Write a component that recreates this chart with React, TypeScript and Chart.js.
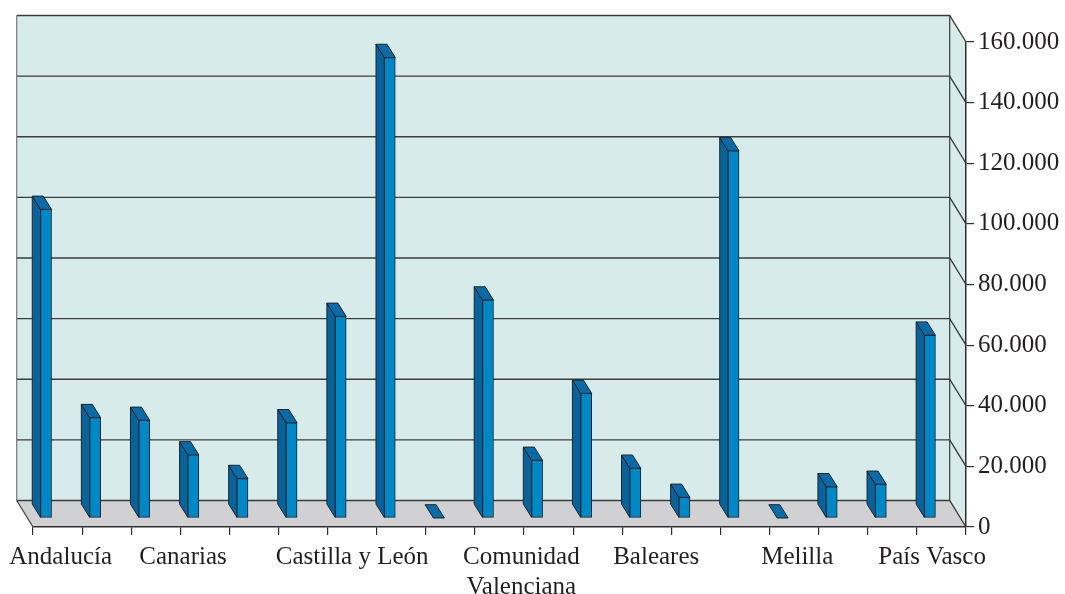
import React, { useEffect, useRef } from 'react';
import { Chart, registerables } from 'chart.js';

Chart.register(...registerables);

// ---- data ----
const categories = [
  'Andalucía', 'Aragón', 'Asturias', 'Canarias', 'Cantabria', 'Castilla-La Mancha',
  'Castilla y León', 'Cataluña', 'Ceuta', 'Comunidad Valenciana', 'Extremadura',
  'Galicia', 'Baleares', 'La Rioja', 'Madrid', 'Melilla', 'Murcia', 'Navarra', 'País Vasco',
];
const values = [
  101800, 33100, 32200, 20800, 13000, 31400,
  66500, 151900, 0, 71900, 19000,
  41100, 16400, 6800, 121100, 0, 10300, 11100, 60300,
];
const yTickValues = [0, 20000, 40000, 60000, 80000, 100000, 120000, 140000, 160000];
const labelEvery = 3;

// ---- style ----
const FONT = "'Liberation Serif', 'Times New Roman', serif";
const TEXT = '#231f20';
const AXIS = '#2e2e2e';
const WALL = '#d7ecea';
const FLOOR = '#d1d1d3';
const GRID = '#3c3c3c';
const FRONT = '#0087c6';
const SIDE = '#08639b';
const TOP = '#0c6ba7';
const OUTLINE = '#1b2530';
const WALL_DX = -16.3;
const WALL_DY = -26.5;
const BAR_SHIFT_X = -11.5;
const BAR_SHIFT_Y = -9;
const DEPTH_DX = -8.3;
const DEPTH_DY = -13.3;
// label nudges (non-breaking spaces: + leading, - trailing)
const LABEL_NUDGE: Record<number, number> = { 0: 1, 3: -7, 9: 7, 12: 3, 15: 1, 18: -3 };

const fmt = (v: number) => String(v).replace(/\B(?=(\d{3})+(?!\d))/g, '.');

function nudge(s: string, n: number) {
  const sp = '\u00a0'.repeat(Math.abs(n));
  return n >= 0 ? sp + s : s + sp;
}

const wallsPlugin = {
  id: 'walls3d',
  beforeDraw(chart: any) {
    const { ctx, chartArea } = chart;
    const { left, right, top, bottom } = chartArea;
    const yScale = chart.scales.y;
    const bl = left + WALL_DX, br = right + WALL_DX;
    const bt = top + WALL_DY, bb = bottom + WALL_DY;
    ctx.save();
    // back wall
    ctx.fillStyle = WALL;
    ctx.fillRect(bl, bt, br - bl, bb - bt);
    // right side wall
    ctx.beginPath();
    ctx.moveTo(br, bt); ctx.lineTo(right, top); ctx.lineTo(right, bottom); ctx.lineTo(br, bb);
    ctx.closePath();
    ctx.fill();
    // floor
    ctx.fillStyle = FLOOR;
    ctx.beginPath();
    ctx.moveTo(bl, bb); ctx.lineTo(br, bb); ctx.lineTo(right, bottom); ctx.lineTo(left, bottom);
    ctx.closePath();
    ctx.fill();
    // gridlines and side diagonals
    ctx.strokeStyle = GRID;
    ctx.lineWidth = 1.4;
    yScale.ticks.forEach((t: any) => {
      const yf = yScale.getPixelForValue(t.value);
      const yb = yf + WALL_DY;
      ctx.beginPath();
      ctx.moveTo(bl, yb); ctx.lineTo(br, yb); ctx.lineTo(right, yf);
      ctx.stroke();
    });
    // wall edges
    ctx.lineWidth = 1.2;
    ctx.beginPath();
    ctx.moveTo(br, bt); ctx.lineTo(br, bb);
    ctx.moveTo(bl, bb); ctx.lineTo(left, bottom);
    ctx.stroke();
    ctx.strokeStyle = '#777';
    ctx.beginPath();
    ctx.moveTo(bl, bt); ctx.lineTo(bl, bb);
    ctx.stroke();
    ctx.restore();
  },
};

const bars3dPlugin = {
  id: 'bars3d',
  beforeDatasetsDraw(chart: any) {
    const { ctx } = chart;
    ctx.save();
    ctx.translate(BAR_SHIFT_X, BAR_SHIFT_Y);
    const meta = chart.getDatasetMeta(0);
    ctx.lineWidth = 1;
    ctx.strokeStyle = OUTLINE;
    ctx.lineJoin = 'miter';
    meta.data.forEach((el: any) => {
      const { x, y, base, width } = el.getProps(['x', 'y', 'base', 'width'], true);
      const L = x - width / 2, R = x + width / 2, T = Math.min(y, base), B = Math.max(y, base);
      // side face
      if (B - T > 0.5) {
        ctx.fillStyle = SIDE;
        ctx.beginPath();
        ctx.moveTo(L, B); ctx.lineTo(L, T); ctx.lineTo(L + DEPTH_DX, T + DEPTH_DY); ctx.lineTo(L + DEPTH_DX, B + DEPTH_DY);
        ctx.closePath();
        ctx.fill(); ctx.stroke();
      }
      // top face
      ctx.fillStyle = TOP;
      ctx.beginPath();
      ctx.moveTo(L, T); ctx.lineTo(R, T); ctx.lineTo(R + DEPTH_DX, T + DEPTH_DY); ctx.lineTo(L + DEPTH_DX, T + DEPTH_DY);
      ctx.closePath();
      ctx.fill(); ctx.stroke();
    });
  },
  afterDatasetsDraw(chart: any) {
    chart.ctx.restore();
  },
};

export default function App() {
  const ref = useRef<HTMLCanvasElement>(null);
  useEffect(() => {
    const chart = new Chart(ref.current as HTMLCanvasElement, {
      type: 'bar',
      data: {
        labels: categories,
        datasets: [
          {
            data: values,
            backgroundColor: FRONT,
            borderColor: OUTLINE,
            borderWidth: 1,
            borderSkipped: false,
            barThickness: 11,
            clip: false as any,
          },
        ],
      },
      options: {
        responsive: false,
        animation: false,
        devicePixelRatio: 1,
        layout: { padding: { left: 33, top: 42, right: 0, bottom: 0 } },
        plugins: {
          legend: { display: false },
          tooltip: { enabled: false },
          title: { display: false },
        },
        scales: {
          x: {
            type: 'category',
            offset: true,
            grid: { offset: true, drawOnChartArea: false, drawTicks: true, tickLength: 8, color: AXIS, lineWidth: 1.2 },
            border: { display: true, color: AXIS, width: 1.5 },
            ticks: {
              autoSkip: false,
              maxRotation: 0,
              minRotation: 0,
              padding: 7,
              color: TEXT,
              font: { family: FONT, size: 25, lineHeight: 1.2 },
              callback: (_v: any, i: number) => {
                if (i % labelEvery !== 0) return '';
                const label = categories[i];
                const n = LABEL_NUDGE[i] || 0;
                const parts = label === 'Comunidad Valenciana' ? ['Comunidad', 'Valenciana'] : [label];
                const out = parts.map((p) => nudge(p, n));
                return out.length === 1 ? out[0] : out;
              },
            },
            afterFit: (s: any) => {
              s.height = 67;
              s.paddingLeft = 0;
              s.paddingRight = 0;
            },
          },
          y: {
            position: 'right',
            min: 0,
            max: 160000,
            grid: { drawOnChartArea: false, drawTicks: true, tickLength: 8, color: AXIS, lineWidth: 1.2 },
            border: { display: true, color: AXIS, width: 1.5 },
            ticks: {
              padding: 4,
              color: TEXT,
              font: { family: FONT, size: 25 },
              callback: (v: any) => fmt(Number(v)),
            },
            afterBuildTicks: (s: any) => {
              s.ticks = yTickValues.map((v) => ({ value: v }));
            },
            afterFit: (s: any) => {
              s.width = 99;
              s.paddingTop = 0;
              s.paddingBottom = 0;
            },
          },
        },
      } as any,
      plugins: [wallsPlugin, bars3dPlugin],
    });
    return () => chart.destroy();
  }, []);
  return (
    <div style={{ position: 'fixed', left: 0, top: 0, width: 1065, height: 594, background: '#ffffff' }}>
      <canvas ref={ref} width={1065} height={594} style={{ display: 'block', width: 1065, height: 594 }} />
    </div>
  );
}
